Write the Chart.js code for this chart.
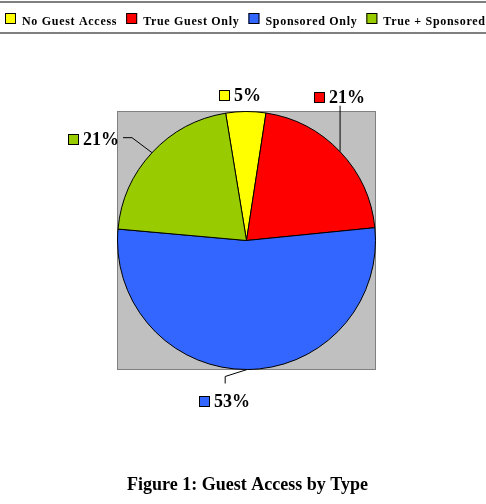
<!DOCTYPE html>
<html>
<head>
<meta charset="utf-8">
<script src="https://cdn.jsdelivr.net/npm/chart.js@4/dist/chart.umd.min.js"></script>
<style>
  body { margin: 0; background: #fff; }
  #wrap { position: relative; width: 486px; height: 504px; }
</style>
</head>
<body>
<div id="wrap"><canvas id="myChart"></canvas></div>
<script>
'use strict';

let typeNames = ['No Guest Access', 'True Guest Only', 'Sponsored Only', 'True + Sponsored'];
let typeShares = [5, 21, 53, 21];
let typeColors = ['#FFFF00', '#FF0000', '#3366FF', '#99CC00'];
let captionText = 'Figure 1: Guest Access by Type';

// where each percent label sits, relative to the slice edge at its mid angle
let labelSpots = [
  { line: [], box: [-27, -17] },
  { line: [[0, -46]], box: [-26, -55] },
  { line: [[-22, 7], [-22, 14]], box: [-48, 32] },
  { line: [[-20, -15], [-29, -15]], box: [-84, -14] }
];

const serif = '"Liberation Serif", "Times New Roman", serif';

const plotBack = {
  id: 'plotBack',
  beforeDatasetsDraw(chart) {
    let ctx = chart.ctx;
    let a = chart.chartArea;
    ctx.save();
    ctx.fillStyle = '#C0C0C0';
    ctx.fillRect(a.left, a.top, a.right - a.left, a.bottom - a.top);
    ctx.strokeStyle = '#808080';
    ctx.lineWidth = 1;
    ctx.strokeRect(a.left + 0.5, a.top + 0.5, a.right - a.left - 1, a.bottom - a.top - 1);
    ctx.restore();
  }
};

const pieExtras = {
  id: 'pieExtras',
  afterDraw(chart) {
    let ctx = chart.ctx;
    let arcs = chart.getDatasetMeta(0).data;
    ctx.save();

    // legend band at the top
    ctx.strokeStyle = '#555';
    ctx.lineWidth = 1.5;
    ctx.beginPath();
    ctx.moveTo(0, 2); ctx.lineTo(chart.width, 2);
    ctx.moveTo(0, 33); ctx.lineTo(chart.width, 33);
    ctx.stroke();

    ctx.font = 'bold 12px ' + serif;
    ctx.letterSpacing = '0.7px';
    ctx.textBaseline = 'alphabetic';
    ctx.textAlign = 'left';
    let x = 5;
    for (let i = 0; i < typeNames.length; i++) {
      ctx.fillStyle = typeColors[i];
      ctx.fillRect(x, 13, 11, 11);
      ctx.strokeStyle = '#000';
      ctx.lineWidth = 1;
      ctx.strokeRect(x + 0.5, 13.5, 10, 10);
      ctx.fillStyle = '#000';
      ctx.fillText(typeNames[i], x + 17, 25);
      x += 17 + ctx.measureText(typeNames[i]).width + 9;
    }
    ctx.letterSpacing = '0px';

    // percent labels with leader lines
    ctx.font = 'bold 18px ' + serif;
    for (let i = 0; i < arcs.length; i++) {
      let arc = arcs[i];
      let mid = (arc.startAngle + arc.endAngle) / 2;
      let ex = arc.x + Math.cos(mid) * arc.outerRadius;
      let ey = arc.y + Math.sin(mid) * arc.outerRadius;
      let spot = labelSpots[i];
      if (spot.line.length) {
        ctx.strokeStyle = '#000';
        ctx.lineWidth = 1;
        ctx.beginPath();
        ctx.moveTo(ex, ey);
        for (let p of spot.line) ctx.lineTo(ex + p[0], ey + p[1]);
        ctx.stroke();
      }
      let bx = Math.round(ex + spot.box[0]);
      let by = Math.round(ey + spot.box[1]);
      ctx.fillStyle = typeColors[i];
      ctx.fillRect(bx, by - 5, 11, 11);
      ctx.strokeStyle = '#000';
      ctx.strokeRect(bx + 0.5, by - 4.5, 10, 10);
      ctx.fillStyle = '#000';
      ctx.fillText(typeShares[i] + '%', bx + 15, by + 6);
    }

    // caption
    ctx.font = 'bold 18px ' + serif;
    ctx.textAlign = 'center';
    ctx.fillText(captionText, 247.5, 490);
    ctx.restore();
  }
};

let ctx = document.getElementById('myChart').getContext('2d');
let myChart = new Chart(ctx, {
  type: 'pie',
  data: {
    labels: typeNames,
    datasets: [{
      data: typeShares,
      backgroundColor: typeColors,
      borderColor: '#000',
      borderWidth: 1
    }]
  },
  options: {
    responsive: true,
    maintainAspectRatio: false,
    animation: false,
    rotation: -9.3,
    layout: {
      padding: { left: 117, top: 111, right: 110, bottom: 134 }
    },
    plugins: {
      legend: { display: false },
      tooltip: { enabled: false }
    }
  },
  plugins: [plotBack, pieExtras]
});
</script>
</body>
</html>
